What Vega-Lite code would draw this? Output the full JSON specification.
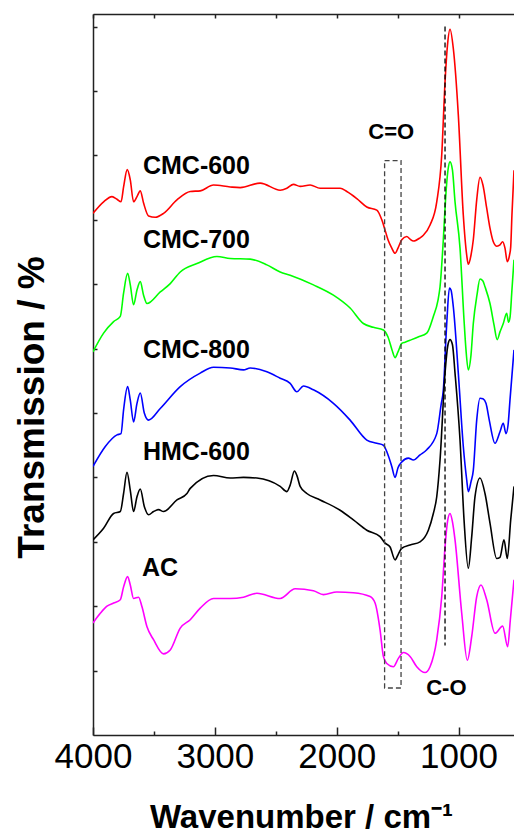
{
  "$schema": "https://vega.github.io/schema/vega-lite/v6.json",
  "width": 421,
  "height": 721,
  "autosize": "none",
  "padding": {"left": 93, "top": 14, "right": 0, "bottom": 101},
  "config": {"view": {"stroke": null}, "font": "Liberation Sans"},
  "datasets": {
    "spectra": [
      {"s":"CMC-600","wn":4000,"t":8.10},{"s":"CMC-600","wn":3913,"t":8.28},{"s":"CMC-600","wn":3844,"t":8.36},{"s":"CMC-600","wn":3803,"t":8.32},{"s":"CMC-600","wn":3770,"t":8.28},{"s":"CMC-600","wn":3749,"t":8.51},{"s":"CMC-600","wn":3719,"t":8.78},{"s":"CMC-600","wn":3694,"t":8.62},{"s":"CMC-600","wn":3667,"t":8.28},{"s":"CMC-600","wn":3639,"t":8.36},{"s":"CMC-600","wn":3612,"t":8.45},{"s":"CMC-600","wn":3585,"t":8.26},{"s":"CMC-600","wn":3544,"t":8.06},{"s":"CMC-600","wn":3489,"t":8.04},{"s":"CMC-600","wn":3421,"t":8.10},{"s":"CMC-600","wn":3311,"t":8.31},{"s":"CMC-600","wn":3202,"t":8.44},{"s":"CMC-600","wn":3120,"t":8.45},{"s":"CMC-600","wn":3011,"t":8.54},{"s":"CMC-600","wn":2874,"t":8.51},{"s":"CMC-600","wn":2792,"t":8.50},{"s":"CMC-600","wn":2628,"t":8.57},{"s":"CMC-600","wn":2464,"t":8.46},{"s":"CMC-600","wn":2409,"t":8.49},{"s":"CMC-600","wn":2355,"t":8.55},{"s":"CMC-600","wn":2300,"t":8.52},{"s":"CMC-600","wn":2218,"t":8.54},{"s":"CMC-600","wn":2136,"t":8.49},{"s":"CMC-600","wn":1972,"t":8.49},{"s":"CMC-600","wn":1917,"t":8.44},{"s":"CMC-600","wn":1835,"t":8.33},{"s":"CMC-600","wn":1753,"t":8.20},{"s":"CMC-600","wn":1671,"t":8.15},{"s":"CMC-600","wn":1630,"t":8.00},{"s":"CMC-600","wn":1603,"t":7.84},{"s":"CMC-600","wn":1579,"t":7.69},{"s":"CMC-600","wn":1548,"t":7.56},{"s":"CMC-600","wn":1521,"t":7.48},{"s":"CMC-600","wn":1497,"t":7.56},{"s":"CMC-600","wn":1466,"t":7.69},{"s":"CMC-600","wn":1425,"t":7.74},{"s":"CMC-600","wn":1398,"t":7.70},{"s":"CMC-600","wn":1371,"t":7.67},{"s":"CMC-600","wn":1316,"t":7.72},{"s":"CMC-600","wn":1289,"t":7.76},{"s":"CMC-600","wn":1234,"t":7.92},{"s":"CMC-600","wn":1179,"t":8.28},{"s":"CMC-600","wn":1138,"t":9.01},{"s":"CMC-600","wn":1111,"t":10.14},{"s":"CMC-600","wn":1091,"t":10.71},{"s":"CMC-600","wn":1070,"t":10.96},{"s":"CMC-600","wn":1043,"t":10.66},{"s":"CMC-600","wn":1002,"t":9.63},{"s":"CMC-600","wn":961,"t":8.07},{"s":"CMC-600","wn":933,"t":7.45},{"s":"CMC-600","wn":920,"t":7.31},{"s":"CMC-600","wn":898,"t":7.45},{"s":"CMC-600","wn":879,"t":7.69},{"s":"CMC-600","wn":851,"t":8.31},{"s":"CMC-600","wn":824,"t":8.66},{"s":"CMC-600","wn":800,"t":8.54},{"s":"CMC-600","wn":769,"t":8.18},{"s":"CMC-600","wn":742,"t":7.87},{"s":"CMC-600","wn":715,"t":7.66},{"s":"CMC-600","wn":685,"t":7.59},{"s":"CMC-600","wn":660,"t":7.61},{"s":"CMC-600","wn":638,"t":7.66},{"s":"CMC-600","wn":619,"t":7.56},{"s":"CMC-600","wn":600,"t":7.35},{"s":"CMC-600","wn":582,"t":7.45},{"s":"CMC-600","wn":572,"t":7.58},{"s":"CMC-600","wn":562,"t":8.07},{"s":"CMC-600","wn":545,"t":8.77},

      {"s":"CMC-700","wn":4000,"t":5.95},{"s":"CMC-700","wn":3913,"t":6.24},{"s":"CMC-700","wn":3831,"t":6.42},{"s":"CMC-700","wn":3776,"t":6.50},{"s":"CMC-700","wn":3749,"t":6.86},{"s":"CMC-700","wn":3716,"t":7.17},{"s":"CMC-700","wn":3694,"t":6.99},{"s":"CMC-700","wn":3667,"t":6.68},{"s":"CMC-700","wn":3639,"t":6.91},{"s":"CMC-700","wn":3612,"t":7.04},{"s":"CMC-700","wn":3585,"t":6.83},{"s":"CMC-700","wn":3557,"t":6.70},{"s":"CMC-700","wn":3448,"t":6.88},{"s":"CMC-700","wn":3366,"t":7.01},{"s":"CMC-700","wn":3284,"t":7.19},{"s":"CMC-700","wn":3147,"t":7.32},{"s":"CMC-700","wn":2983,"t":7.43},{"s":"CMC-700","wn":2874,"t":7.40},{"s":"CMC-700","wn":2710,"t":7.39},{"s":"CMC-700","wn":2573,"t":7.30},{"s":"CMC-700","wn":2464,"t":7.19},{"s":"CMC-700","wn":2382,"t":7.14},{"s":"CMC-700","wn":2191,"t":6.99},{"s":"CMC-700","wn":2027,"t":6.83},{"s":"CMC-700","wn":1890,"t":6.63},{"s":"CMC-700","wn":1781,"t":6.39},{"s":"CMC-700","wn":1699,"t":6.33},{"s":"CMC-700","wn":1617,"t":6.29},{"s":"CMC-700","wn":1579,"t":6.18},{"s":"CMC-700","wn":1546,"t":5.98},{"s":"CMC-700","wn":1521,"t":5.86},{"s":"CMC-700","wn":1497,"t":5.95},{"s":"CMC-700","wn":1466,"t":6.08},{"s":"CMC-700","wn":1439,"t":6.10},{"s":"CMC-700","wn":1398,"t":6.13},{"s":"CMC-700","wn":1332,"t":6.18},{"s":"CMC-700","wn":1261,"t":6.24},{"s":"CMC-700","wn":1207,"t":6.50},{"s":"CMC-700","wn":1169,"t":6.75},{"s":"CMC-700","wn":1152,"t":6.96},{"s":"CMC-700","wn":1125,"t":7.69},{"s":"CMC-700","wn":1107,"t":8.31},{"s":"CMC-700","wn":1087,"t":8.77},{"s":"CMC-700","wn":1070,"t":8.90},{"s":"CMC-700","wn":1050,"t":8.77},{"s":"CMC-700","wn":1029,"t":8.28},{"s":"CMC-700","wn":988,"t":7.56},{"s":"CMC-700","wn":955,"t":6.44},{"s":"CMC-700","wn":939,"t":5.98},{"s":"CMC-700","wn":920,"t":5.67},{"s":"CMC-700","wn":898,"t":5.90},{"s":"CMC-700","wn":879,"t":6.39},{"s":"CMC-700","wn":849,"t":6.83},{"s":"CMC-700","wn":824,"t":7.08},{"s":"CMC-700","wn":800,"t":7.05},{"s":"CMC-700","wn":783,"t":6.96},{"s":"CMC-700","wn":742,"t":6.70},{"s":"CMC-700","wn":709,"t":6.37},{"s":"CMC-700","wn":683,"t":6.14},{"s":"CMC-700","wn":660,"t":6.26},{"s":"CMC-700","wn":633,"t":6.39},{"s":"CMC-700","wn":605,"t":6.55},{"s":"CMC-700","wn":590,"t":6.41},{"s":"CMC-700","wn":578,"t":6.48},{"s":"CMC-700","wn":562,"t":6.91},{"s":"CMC-700","wn":545,"t":7.38},

      {"s":"CMC-800","wn":4000,"t":4.17},{"s":"CMC-800","wn":3899,"t":4.48},{"s":"CMC-800","wn":3803,"t":4.66},{"s":"CMC-800","wn":3770,"t":4.68},{"s":"CMC-800","wn":3749,"t":5.05},{"s":"CMC-800","wn":3716,"t":5.41},{"s":"CMC-800","wn":3694,"t":5.20},{"s":"CMC-800","wn":3667,"t":4.86},{"s":"CMC-800","wn":3639,"t":5.15},{"s":"CMC-800","wn":3612,"t":5.31},{"s":"CMC-800","wn":3579,"t":5.00},{"s":"CMC-800","wn":3544,"t":4.89},{"s":"CMC-800","wn":3448,"t":5.07},{"s":"CMC-800","wn":3284,"t":5.41},{"s":"CMC-800","wn":3120,"t":5.62},{"s":"CMC-800","wn":3011,"t":5.71},{"s":"CMC-800","wn":2874,"t":5.70},{"s":"CMC-800","wn":2765,"t":5.67},{"s":"CMC-800","wn":2710,"t":5.70},{"s":"CMC-800","wn":2573,"t":5.64},{"s":"CMC-800","wn":2464,"t":5.54},{"s":"CMC-800","wn":2382,"t":5.46},{"s":"CMC-800","wn":2327,"t":5.33},{"s":"CMC-800","wn":2273,"t":5.42},{"s":"CMC-800","wn":2191,"t":5.36},{"s":"CMC-800","wn":2027,"t":5.15},{"s":"CMC-800","wn":1890,"t":4.89},{"s":"CMC-800","wn":1753,"t":4.58},{"s":"CMC-800","wn":1671,"t":4.53},{"s":"CMC-800","wn":1617,"t":4.50},{"s":"CMC-800","wn":1587,"t":4.39},{"s":"CMC-800","wn":1548,"t":4.17},{"s":"CMC-800","wn":1521,"t":4.00},{"s":"CMC-800","wn":1497,"t":4.15},{"s":"CMC-800","wn":1466,"t":4.24},{"s":"CMC-800","wn":1412,"t":4.30},{"s":"CMC-800","wn":1371,"t":4.27},{"s":"CMC-800","wn":1316,"t":4.35},{"s":"CMC-800","wn":1261,"t":4.43},{"s":"CMC-800","wn":1179,"t":4.68},{"s":"CMC-800","wn":1144,"t":5.12},{"s":"CMC-800","wn":1125,"t":5.36},{"s":"CMC-800","wn":1097,"t":6.39},{"s":"CMC-800","wn":1075,"t":6.94},{"s":"CMC-800","wn":1062,"t":6.91},{"s":"CMC-800","wn":1043,"t":6.65},{"s":"CMC-800","wn":1002,"t":5.62},{"s":"CMC-800","wn":961,"t":4.48},{"s":"CMC-800","wn":933,"t":3.96},{"s":"CMC-800","wn":920,"t":3.78},{"s":"CMC-800","wn":898,"t":3.93},{"s":"CMC-800","wn":879,"t":4.11},{"s":"CMC-800","wn":851,"t":4.89},{"s":"CMC-800","wn":824,"t":5.23},{"s":"CMC-800","wn":800,"t":5.22},{"s":"CMC-800","wn":775,"t":5.15},{"s":"CMC-800","wn":748,"t":4.89},{"s":"CMC-800","wn":701,"t":4.53},{"s":"CMC-800","wn":660,"t":4.71},{"s":"CMC-800","wn":633,"t":4.84},{"s":"CMC-800","wn":611,"t":4.68},{"s":"CMC-800","wn":594,"t":4.81},{"s":"CMC-800","wn":578,"t":5.20},{"s":"CMC-800","wn":545,"t":5.98},

      {"s":"HMC-600","wn":4000,"t":3.03},{"s":"HMC-600","wn":3913,"t":3.21},{"s":"HMC-600","wn":3831,"t":3.44},{"s":"HMC-600","wn":3776,"t":3.47},{"s":"HMC-600","wn":3749,"t":3.75},{"s":"HMC-600","wn":3721,"t":4.08},{"s":"HMC-600","wn":3694,"t":3.80},{"s":"HMC-600","wn":3667,"t":3.47},{"s":"HMC-600","wn":3639,"t":3.70},{"s":"HMC-600","wn":3612,"t":3.82},{"s":"HMC-600","wn":3579,"t":3.55},{"s":"HMC-600","wn":3544,"t":3.42},{"s":"HMC-600","wn":3503,"t":3.47},{"s":"HMC-600","wn":3462,"t":3.50},{"s":"HMC-600","wn":3421,"t":3.47},{"s":"HMC-600","wn":3311,"t":3.65},{"s":"HMC-600","wn":3229,"t":3.75},{"s":"HMC-600","wn":3202,"t":3.83},{"s":"HMC-600","wn":3011,"t":4.03},{"s":"HMC-600","wn":2874,"t":3.99},{"s":"HMC-600","wn":2765,"t":4.00},{"s":"HMC-600","wn":2655,"t":3.99},{"s":"HMC-600","wn":2464,"t":3.86},{"s":"HMC-600","wn":2409,"t":3.78},{"s":"HMC-600","wn":2382,"t":3.88},{"s":"HMC-600","wn":2347,"t":4.10},{"s":"HMC-600","wn":2325,"t":4.02},{"s":"HMC-600","wn":2300,"t":3.86},{"s":"HMC-600","wn":2245,"t":3.75},{"s":"HMC-600","wn":2136,"t":3.65},{"s":"HMC-600","wn":1972,"t":3.49},{"s":"HMC-600","wn":1863,"t":3.34},{"s":"HMC-600","wn":1753,"t":3.18},{"s":"HMC-600","wn":1644,"t":3.08},{"s":"HMC-600","wn":1603,"t":2.98},{"s":"HMC-600","wn":1562,"t":2.92},{"s":"HMC-600","wn":1521,"t":2.72},{"s":"HMC-600","wn":1494,"t":2.81},{"s":"HMC-600","wn":1466,"t":2.90},{"s":"HMC-600","wn":1398,"t":2.95},{"s":"HMC-600","wn":1316,"t":3.00},{"s":"HMC-600","wn":1248,"t":3.18},{"s":"HMC-600","wn":1207,"t":3.44},{"s":"HMC-600","wn":1179,"t":3.70},{"s":"HMC-600","wn":1152,"t":4.27},{"s":"HMC-600","wn":1111,"t":5.62},{"s":"HMC-600","wn":1087,"t":6.06},{"s":"HMC-600","wn":1070,"t":6.14},{"s":"HMC-600","wn":1050,"t":6.06},{"s":"HMC-600","wn":1029,"t":5.62},{"s":"HMC-600","wn":988,"t":4.58},{"s":"HMC-600","wn":955,"t":3.34},{"s":"HMC-600","wn":920,"t":2.59},{"s":"HMC-600","wn":892,"t":3.08},{"s":"HMC-600","wn":865,"t":3.70},{"s":"HMC-600","wn":824,"t":3.99},{"s":"HMC-600","wn":783,"t":3.75},{"s":"HMC-600","wn":742,"t":3.29},{"s":"HMC-600","wn":687,"t":2.74},{"s":"HMC-600","wn":660,"t":2.76},{"s":"HMC-600","wn":627,"t":3.03},{"s":"HMC-600","wn":600,"t":2.74},{"s":"HMC-600","wn":572,"t":3.34},{"s":"HMC-600","wn":545,"t":3.86},

      {"s":"AC","wn":4000,"t":1.74},{"s":"AC","wn":3940,"t":1.89},{"s":"AC","wn":3885,"t":2.00},{"s":"AC","wn":3831,"t":2.05},{"s":"AC","wn":3776,"t":2.10},{"s":"AC","wn":3749,"t":2.30},{"s":"AC","wn":3716,"t":2.46},{"s":"AC","wn":3694,"t":2.33},{"s":"AC","wn":3667,"t":2.12},{"s":"AC","wn":3626,"t":2.14},{"s":"AC","wn":3598,"t":1.99},{"s":"AC","wn":3557,"t":1.68},{"s":"AC","wn":3503,"t":1.48},{"s":"AC","wn":3421,"t":1.26},{"s":"AC","wn":3366,"t":1.32},{"s":"AC","wn":3284,"t":1.66},{"s":"AC","wn":3202,"t":1.79},{"s":"AC","wn":3120,"t":1.97},{"s":"AC","wn":3011,"t":2.12},{"s":"AC","wn":2874,"t":2.12},{"s":"AC","wn":2765,"t":2.14},{"s":"AC","wn":2655,"t":2.20},{"s":"AC","wn":2464,"t":2.12},{"s":"AC","wn":2341,"t":2.27},{"s":"AC","wn":2191,"t":2.24},{"s":"AC","wn":2109,"t":2.18},{"s":"AC","wn":1999,"t":2.22},{"s":"AC","wn":1863,"t":2.21},{"s":"AC","wn":1726,"t":2.15},{"s":"AC","wn":1685,"t":2.05},{"s":"AC","wn":1644,"t":1.63},{"s":"AC","wn":1617,"t":1.22},{"s":"AC","wn":1589,"t":1.11},{"s":"AC","wn":1535,"t":1.06},{"s":"AC","wn":1494,"t":1.19},{"s":"AC","wn":1453,"t":1.28},{"s":"AC","wn":1398,"t":1.22},{"s":"AC","wn":1343,"t":1.06},{"s":"AC","wn":1275,"t":0.97},{"s":"AC","wn":1234,"t":1.06},{"s":"AC","wn":1179,"t":1.48},{"s":"AC","wn":1138,"t":2.15},{"s":"AC","wn":1111,"t":2.92},{"s":"AC","wn":1091,"t":3.31},{"s":"AC","wn":1070,"t":3.44},{"s":"AC","wn":1050,"t":3.31},{"s":"AC","wn":1029,"t":3.03},{"s":"AC","wn":974,"t":1.89},{"s":"AC","wn":928,"t":1.16},{"s":"AC","wn":892,"t":1.53},{"s":"AC","wn":851,"t":2.15},{"s":"AC","wn":816,"t":2.33},{"s":"AC","wn":769,"t":2.10},{"s":"AC","wn":701,"t":1.58},{"s":"AC","wn":638,"t":1.69},{"s":"AC","wn":597,"t":1.37},{"s":"AC","wn":575,"t":1.79},{"s":"AC","wn":545,"t":2.41}
    ],
    "vline": [{"wn": 1111, "t": 11.0, "t2": 1.39}],
    "box": [{"wn": 1607, "wn2": 1472, "t": 8.92, "t2": 0.73}],
    "names": [
      {"label": "CMC-600", "wn": 3590, "t": 8.84},
      {"label": "CMC-700", "wn": 3590, "t": 7.69},
      {"label": "CMC-800", "wn": 3590, "t": 5.98},
      {"label": "HMC-600", "wn": 3590, "t": 4.40},
      {"label": "AC", "wn": 3598, "t": 2.60}
    ],
    "bonds": [
      {"label": "C=O", "wn": 1552, "t": 9.36},
      {"label": "C-O", "wn": 1100, "t": 0.73}
    ]
  },
  "resolve": {"axis": {"x": "independent", "y": "independent"}},
  "layer": [
    {
      "data": {"name": "spectra"},
      "mark": {"type": "line", "clip": true, "interpolate": "monotone"},
      "encoding": {
        "x": {
          "field": "wn", "type": "quantitative",
          "scale": {"domain": [545, 4000], "reverse": true, "nice": false, "zero": false},
          "axis": {
            "orient": "bottom", "offset": -8,
            "values": [4000, 3000, 2000, 1000],
            "format": "d",
            "ticks": true, "tickSize": 8, "tickColor": "#222", "tickWidth": 1.5,
            "domain": false, "grid": false,
            "labelFont": "Liberation Sans", "labelFontSize": 35, "labelColor": "#000",
            "labelBaseline": "alphabetic", "labelPadding": 32,
            "labelFlush": false, "labelOverlap": false, "labelBound": false,
            "title": "Wavenumber / cm⁻¹",
            "titleFont": "Liberation Sans", "titleFontSize": 33, "titleFontWeight": "bold", "titleColor": "#000",
            "titleBaseline": "alphabetic", "titleX": 208, "titleY": 100, "titleAnchor": "middle", "titleAlign": "center"
          }
        },
        "y": {
          "field": "t", "type": "quantitative",
          "scale": {"domain": [0, 11.196], "nice": false, "zero": false},
          "axis": {
            "orient": "left", "offset": -4,
            "values": [1, 2, 3, 4, 5, 6, 7, 8, 9, 10, 11],
            "ticks": true, "tickSize": 4, "tickColor": "#222", "tickWidth": 1.5,
            "labels": false, "grid": false, "domain": false,
            "title": "Transmission / %",
            "titleFont": "Liberation Sans", "titleFontSize": 37, "titleFontWeight": "bold", "titleColor": "#000",
            "titleAngle": -90, "titleBaseline": "alphabetic", "titleAlign": "center", "titleX": -54, "titleY": 393
          }
        },
        "detail": {"field": "s"},
        "color": {
          "field": "s", "type": "nominal",
          "scale": {"domain": ["CMC-600", "CMC-700", "CMC-800", "HMC-600", "AC"], "range": ["#ff0000", "#00ff00", "#0000ff", "#000000", "#ff00ff"]},
          "legend": null
        },
        "strokeWidth": {
          "field": "s", "type": "nominal",
          "scale": {"domain": ["CMC-600", "CMC-700", "CMC-800", "HMC-600", "AC"], "range": [1.6, 1.6, 2.4, 1.5, 2.4]},
          "legend": null
        }
      }
    },
    {
      "data": {"name": "vline"},
      "mark": {"type": "rule", "color": "#000", "strokeWidth": 1.3, "strokeDash": [5, 3]},
      "encoding": {
        "x": {
          "field": "wn", "type": "quantitative",
          "axis": {
            "orient": "top", "offset": -4,
            "values": [4000, 3500, 3000, 2500, 2000, 1500, 1000],
            "ticks": true, "tickSize": 4, "tickColor": "#222", "tickWidth": 1.5,
            "labels": false, "grid": false, "title": null, "domain": false
          }
        },
        "y": {
          "field": "t", "type": "quantitative",
          "axis": {
            "orient": "left", "ticks": false, "labels": false, "grid": false, "title": null,
            "domain": true, "domainColor": "#222", "domainWidth": 1.5
          }
        },
        "y2": {"field": "t2"}
      }
    },
    {
      "data": {"name": "box"},
      "mark": {"type": "rect", "fillOpacity": 0, "stroke": "#444", "strokeWidth": 1.3, "strokeDash": [5, 3]},
      "encoding": {
        "x": {
          "field": "wn", "type": "quantitative",
          "axis": {
            "orient": "bottom", "offset": -4,
            "values": [3500, 2500, 1500],
            "ticks": true, "tickSize": 4, "tickColor": "#222", "tickWidth": 1.5,
            "labels": false, "grid": false, "title": null, "domain": false
          }
        },
        "x2": {"field": "wn2"},
        "y": {"field": "t", "type": "quantitative", "axis": null},
        "y2": {"field": "t2"}
      }
    },
    {
      "data": {"name": "names"},
      "mark": {"type": "text", "font": "Liberation Sans", "fontSize": 25, "fontWeight": "bold", "align": "left", "baseline": "middle", "color": "#000"},
      "encoding": {
        "x": {
          "field": "wn", "type": "quantitative",
          "axis": {
            "orient": "bottom", "ticks": false, "labels": false, "grid": false, "title": null,
            "domain": true, "domainColor": "#222", "domainWidth": 1.5
          }
        },
        "y": {"field": "t", "type": "quantitative", "axis": null},
        "text": {"field": "label"}
      }
    },
    {
      "data": {"name": "bonds"},
      "mark": {"type": "text", "font": "Liberation Sans", "fontSize": 22, "fontWeight": "bold", "align": "center", "baseline": "middle", "color": "#000"},
      "encoding": {
        "x": {
          "field": "wn", "type": "quantitative",
          "axis": {
            "orient": "top", "ticks": false, "labels": false, "grid": false, "title": null,
            "domain": true, "domainColor": "#222", "domainWidth": 1.5
          }
        },
        "y": {"field": "t", "type": "quantitative", "axis": null},
        "text": {"field": "label"}
      }
    }
  ]
}
